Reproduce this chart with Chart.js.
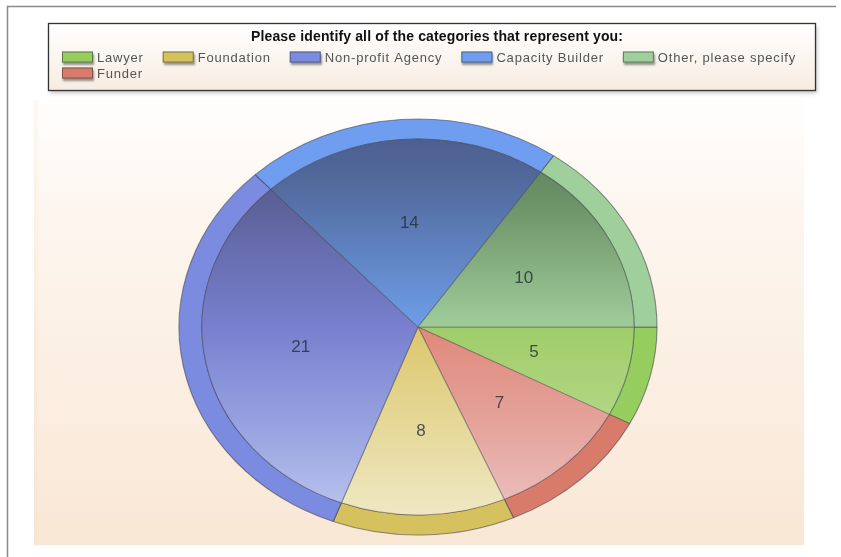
<!DOCTYPE html>
<html><head><meta charset="utf-8">
<script src="https://cdn.jsdelivr.net/npm/chart.js@4/dist/chart.umd.min.js"></script>
<style>html,body{margin:0;padding:0;background:#fff}#wrap{width:841px;height:557px;position:relative}canvas{display:block}</style>
</head><body><div id="wrap"><canvas id="c" width="841" height="557"></canvas></div>
<script>
// ---- data ----
const chartTitle = 'Please identify all of the categories that represent you:';
const categories = ['Lawyer', 'Funder', 'Foundation', 'Non-profit Agency', 'Capacity Builder', 'Other, please specify'];
const counts = [5, 7, 8, 21, 14, 10];
const legendOrder = ['Lawyer', 'Foundation', 'Non-profit Agency', 'Capacity Builder', 'Other, please specify', 'Funder'];

// ---- styles ----
const rimColors = ['#95cd5e', '#d97b6a', '#d5c25e', '#7b8be0', '#6f9ef0', '#9fd09b'];
const fillStops = [
  [[0, '#6f9a3e'], [0.5, '#a0cd6a'], [1, '#c6e4a4']],
  [[0, '#c0605a'], [0.5, '#df897b'], [0.75, '#e5a59d'], [1, '#edc8ca']],
  [[0, '#c8b050'], [0.5, '#dcc76d'], [0.75, '#e6d99b'], [1, '#f1ebcd']],
  [[0, '#4e5186'], [0.2, '#5c6199'], [0.5, '#7880cf'], [0.75, '#99a4e1'], [1, '#c3ccf2']],
  [[0, '#4a5b8a'], [0.15, '#52699c'], [0.5, '#6e9ee8'], [1, '#9cc4ff']],
  [[0, '#587a56'], [0.2, '#6c9268'], [0.5, '#a0cc9a'], [1, '#c8e8c4']]
];
const SX = 239 / 208;
const R = 208;

const bgPlugin = {
  id: 'bg',
  beforeDraw(chart) {
    const ctx = chart.ctx;
    ctx.save();
    ctx.fillStyle = '#fff';
    ctx.fillRect(0, 0, 841, 557);
    ctx.strokeStyle = '#8a8a8a';
    ctx.lineWidth = 1.5;
    ctx.beginPath();
    ctx.moveTo(7.5, 557); ctx.lineTo(7.5, 6.5); ctx.lineTo(836, 6.5);
    ctx.stroke();
    const g = ctx.createLinearGradient(0, 100, 0, 545);
    g.addColorStop(0, '#fffefd');
    g.addColorStop(0.25, '#fdf6ef');
    g.addColorStop(1, '#f9e7d5');
    ctx.fillStyle = g;
    ctx.fillRect(34, 100, 770, 445);
    const g2 = ctx.createLinearGradient(34, 0, 40, 0);
    g2.addColorStop(0, 'rgba(240,220,190,0.25)');
    g2.addColorStop(1, 'rgba(240,220,190,0)');
    ctx.fillStyle = g2;
    ctx.fillRect(34, 100, 6, 445);
    ctx.restore();
  }
};

const ellipsePlugin = {
  id: 'ellipse',
  beforeDatasetsDraw(chart) {
    const el = chart.getDatasetMeta(0).data[0];
    const ctx = chart.ctx;
    ctx.save();
    ctx.translate(el.x, el.y);
    ctx.scale(SX, 1);
    ctx.translate(-el.x, -el.y);
  },
  afterDatasetsDraw(chart) {
    chart.ctx.restore();
  }
};

const valueLabels = {
  id: 'valueLabels',
  afterDatasetsDraw(chart) {
    const ctx = chart.ctx;
    const meta = chart.getDatasetMeta(1);
    const outer = chart.getDatasetMeta(0).data[0].outerRadius;
    ctx.save();
    ctx.font = '17px "Liberation Sans", Arial, sans-serif';
    ctx.fillStyle = 'rgba(35,45,55,0.8)';
    ctx.textAlign = 'center';
    ctx.textBaseline = 'middle';
    meta.data.forEach((arc, i) => {
      const a = (arc.startAngle + arc.endAngle) / 2;
      const r = outer * 0.5;
      const x = arc.x + Math.cos(a) * r * SX;
      const y = arc.y + Math.sin(a) * r;
      ctx.fillText(String(chart.data.datasets[1].data[i]), x, y);
    });
    ctx.restore();
  }
};

const legendPlugin = {
  id: 'customLegend',
  afterDraw(chart) {
    const ctx = chart.ctx;
    ctx.save();
    ctx.shadowColor = 'rgba(0,0,0,0.25)';
    ctx.shadowBlur = 4;
    ctx.shadowOffsetX = 1;
    ctx.shadowOffsetY = 2;
    const g = ctx.createLinearGradient(0, 23, 0, 91);
    g.addColorStop(0, '#ffffff');
    g.addColorStop(1, '#f7ece1');
    ctx.fillStyle = g;
    ctx.fillRect(48.5, 23.5, 767, 67);
    ctx.shadowColor = 'transparent';
    ctx.strokeStyle = '#333';
    ctx.lineWidth = 1.3;
    ctx.strokeRect(48.5, 23.5, 767, 67);
    // title
    ctx.fillStyle = '#111';
    ctx.font = 'bold 14px "Liberation Sans", Arial, sans-serif';
    ctx.letterSpacing = '0px';
    const w0 = ctx.measureText(chartTitle).width;
    const target = 372;
    ctx.letterSpacing = ((target - w0) / chartTitle.length).toFixed(2) + 'px';
    ctx.textBaseline = 'middle';
    ctx.textAlign = 'left';
    ctx.fillText(chartTitle, 437 - target / 2, 37);
    // items
    ctx.font = '13px "Liberation Sans", Arial, sans-serif';
    ctx.letterSpacing = '0.8px';
    let x = 62, y = 57;
    legendOrder.forEach((name) => {
      const idx = categories.indexOf(name);
      const tw = ctx.measureText(name).width;
      if (x + 35 + tw > 805) { x = 62; y += 16; }
      ctx.save();
      ctx.shadowColor = 'rgba(0,0,0,0.4)';
      ctx.shadowBlur = 2;
      ctx.shadowOffsetX = 1;
      ctx.shadowOffsetY = 2;
      ctx.fillStyle = rimColors[idx];
      ctx.fillRect(x, y - 5.5, 31, 11);
      ctx.restore();
      ctx.strokeStyle = 'rgba(60,60,60,0.6)';
      ctx.lineWidth = 1;
      ctx.strokeRect(x + 0.5, y - 5, 30, 10);
      ctx.fillStyle = '#555';
      ctx.fillText(name, x + 35, y + 1);
      x += 35 + tw + 19;
    });
    ctx.restore();
  }
};

new Chart(document.getElementById('c'), {
  type: 'pie',
  data: {
    labels: categories,
    datasets: [
      {
        data: counts,
        backgroundColor: rimColors,
        borderColor: 'rgba(60,62,75,0.55)',
        borderWidth: 1,
        weight: 20,
        order: 1
      },
      {
        data: counts,
        backgroundColor: (c) => {
          const chart = c.chart;
          const area = chart.chartArea;
          if (!area) return rimColors[c.dataIndex];
          const cy = (area.top + area.bottom) / 2;
          const g = chart.ctx.createLinearGradient(0, cy - R, 0, cy + R);
          fillStops[c.dataIndex].forEach(([o, col]) => g.addColorStop(o, col));
          return g;
        },
        borderColor: 'rgba(60,62,75,0.4)',
        borderWidth: 1,
        weight: 188,
        order: 0
      }
    ]
  },
  options: {
    responsive: false,
    animation: false,
    radius: R,
    rotation: 90,
    layout: { padding: { top: 119, bottom: 22, left: 210, right: 215 } },
    plugins: {
      legend: { display: false },
      tooltip: { enabled: false }
    },
    events: []
  },
  plugins: [bgPlugin, ellipsePlugin, valueLabels, legendPlugin]
});
</script>
</body></html>
